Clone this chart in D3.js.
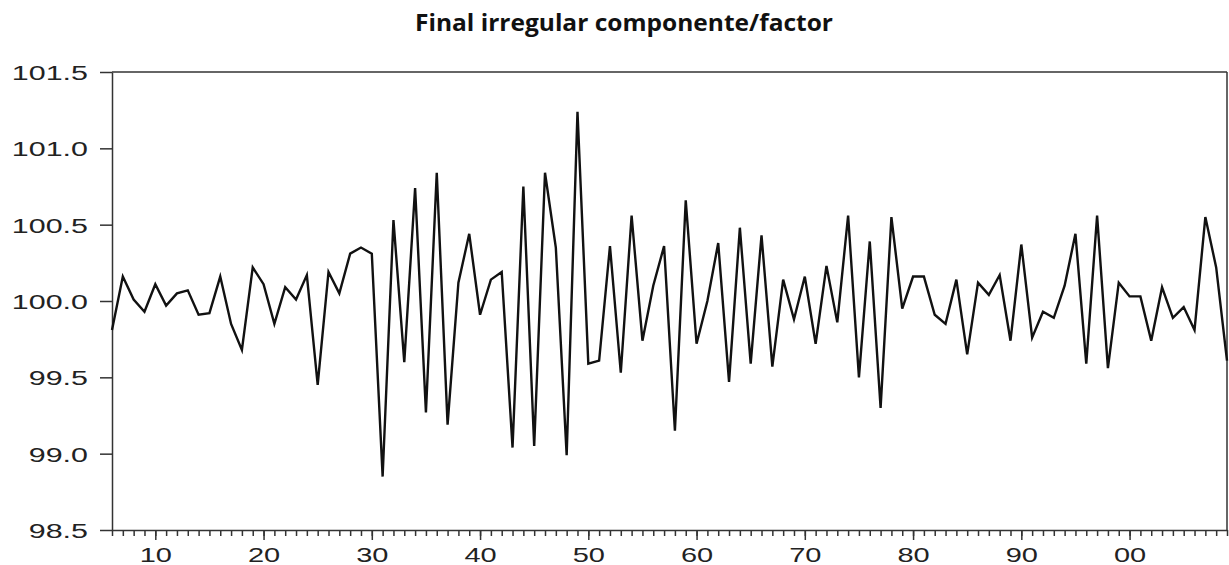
<!DOCTYPE html>
<html>
<head>
<meta charset="utf-8">
<script src="https://cdn.jsdelivr.net/npm/d3@7"></script>
<style>
  html, body { margin: 0; padding: 0; background: #fff; }
  svg { display: block; }
</style>
</head>
<body>
<svg id="chart" width="1229" height="565"></svg>
<script>
// ---- data ----
const years = d3.range(1906, 2010);
const values = [
  99.81, 100.16, 100.01, 99.93, 100.11, 99.97, 100.05, 100.07, 99.91, 99.92,
  100.16, 99.85, 99.68, 100.22, 100.11, 99.85, 100.09, 100.01, 100.17, 99.45,
  100.19, 100.05, 100.31, 100.35, 100.31, 98.85, 100.53, 99.60, 100.74, 99.27,
  100.84, 99.19, 100.12, 100.44, 99.91, 100.14, 100.19, 99.04, 100.75, 99.05,
  100.84, 100.35, 98.99, 101.24, 99.59, 99.61, 100.36, 99.53, 100.56, 99.74,
  100.10, 100.36, 99.15, 100.66, 99.72, 100.00, 100.38, 99.47, 100.48, 99.59,
  100.43, 99.57, 100.14, 99.88, 100.16, 99.72, 100.23, 99.86, 100.56, 99.50,
  100.39, 99.30, 100.55, 99.95, 100.16, 100.16, 99.91, 99.85, 100.14, 99.65,
  100.12, 100.04, 100.17, 99.74, 100.37, 99.76, 99.93, 99.89, 100.10, 100.44,
  99.59, 100.56, 99.56, 100.12, 100.03, 100.03, 99.74, 100.09, 99.89, 99.96,
  99.81, 100.55, 100.22, 99.61
];
const yTicks = [98.5, 99.0, 99.5, 100.0, 100.5, 101.0, 101.5];
const xMajorTicks = [1910, 1920, 1930, 1940, 1950, 1960, 1970, 1980, 1990, 2000];
const xMajorLabels = ["10", "20", "30", "40", "50", "60", "70", "80", "90", "00"];
const title = "Final irregular componente/factor";

// ---- layout ----
const svg = d3.select("#chart");
const L = 112, R = 1227, T = 72, B = 530;
const x = d3.scaleLinear().domain([1906, 2009]).range([L, R]);
const y = d3.scaleLinear().domain([98.5, 101.5]).range([B, T]);
const axisColor = "#333";
const labelFont = "'Liberation Sans', Arial, sans-serif";

// title
svg.append("text")
  .attr("x", 624).attr("y", 31)
  .attr("text-anchor", "middle")
  .attr("font-family", "'Open Sans', 'Noto Sans', sans-serif")
  .attr("font-weight", "bold")
  .attr("font-size", 23)
  .attr("textLength", 418)
  .attr("lengthAdjust", "spacingAndGlyphs")
  .attr("fill", "#111")
  .text(title);

// frame (top + right)
svg.append("line").attr("x1", L).attr("x2", R).attr("y1", T).attr("y2", T)
  .attr("stroke", axisColor).attr("stroke-width", 1.5);
svg.append("line").attr("x1", R).attr("x2", R).attr("y1", T).attr("y2", B)
  .attr("stroke", axisColor).attr("stroke-width", 1.5);

// y axis
const gy = svg.append("g").attr("transform", `translate(${L},0)`)
  .call(d3.axisLeft(y).tickValues(yTicks).tickFormat(d3.format(".1f")).tickSize(12).tickSizeOuter(0));
gy.select(".domain").attr("stroke", axisColor).attr("stroke-width", 1.5);
gy.selectAll(".tick line").attr("stroke", axisColor).attr("stroke-width", 1.5);
gy.selectAll(".tick text")
  .attr("x", 0).attr("dy", "0.35em")
  .attr("text-anchor", "end")
  .attr("transform", "translate(-24,0) scale(1.45,1)")
  .attr("font-family", labelFont).attr("font-size", 21).attr("fill", "#222");

// x axis minor ticks
const gxm = svg.append("g").attr("transform", `translate(0,${B})`)
  .call(d3.axisBottom(x).tickValues(years).tickFormat("").tickSize(6).tickSizeOuter(0));
gxm.select(".domain").attr("stroke", axisColor).attr("stroke-width", 1.5);
gxm.selectAll(".tick line").attr("stroke", axisColor).attr("stroke-width", 1.5);

// x axis major ticks
const gx = svg.append("g").attr("transform", `translate(0,${B})`)
  .call(d3.axisBottom(x).tickValues(xMajorTicks)
    .tickFormat((d, i) => xMajorLabels[i]).tickSize(10).tickSizeOuter(0));
gx.select(".domain").remove();
gx.selectAll(".tick line").attr("stroke", axisColor).attr("stroke-width", 1.5);
gx.selectAll(".tick text")
  .attr("y", 0).attr("dy", 0)
  .attr("text-anchor", "middle")
  .attr("transform", "translate(0,32) scale(1.38,1)")
  .attr("font-family", labelFont).attr("font-size", 21).attr("fill", "#222");

// series line
const line = d3.line().x((d, i) => x(years[i])).y(d => y(d));
svg.append("path")
  .datum(values)
  .attr("fill", "none")
  .attr("stroke", "#111")
  .attr("stroke-width", 2.4)
  .attr("stroke-linejoin", "miter")
  .attr("d", line);
</script>
</body>
</html>
